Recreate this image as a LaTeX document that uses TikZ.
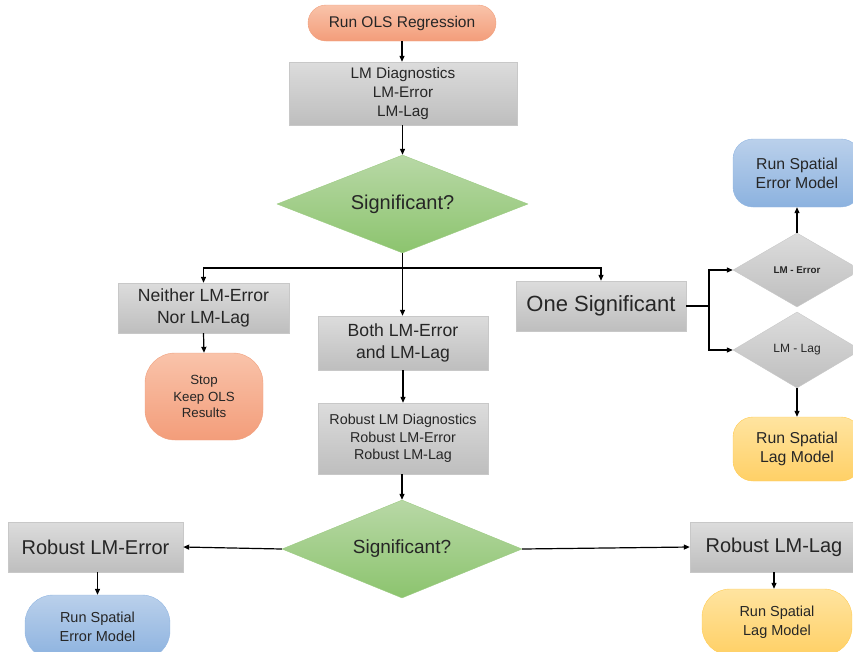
\documentclass[tikz,border=0pt]{standalone}
\usepackage{fontspec}
\setmainfont{Liberation Sans}
\usetikzlibrary{shapes.geometric,arrows.meta}
\definecolor{txt}{HTML}{262626}
\definecolor{graytop}{HTML}{DCDCDC}
\definecolor{graybot}{HTML}{BEBEBE}
\definecolor{grayedge}{HTML}{C8C8C8}
\definecolor{saltop}{HTML}{F9C3AA}
\definecolor{salbot}{HTML}{F39D7A}
\definecolor{saledge}{HTML}{F0A07E}
\definecolor{greentop}{HTML}{B8D8A6}
\definecolor{greenbot}{HTML}{8CC46E}
\definecolor{greenedge}{HTML}{9CCB82}
\definecolor{bluetop}{HTML}{BAD0EB}
\definecolor{bluebot}{HTML}{8CB2DF}
\definecolor{blueedge}{HTML}{93B7E2}
\definecolor{yeltop}{HTML}{FFE4A0}
\definecolor{yelbot}{HTML}{FFD066}
\definecolor{yeledge}{HTML}{FFCC55}
\tikzset{
  base/.style={inner sep=0pt, align=center, text=txt},
  graybox/.style={base, rectangle, draw=grayedge, top color=graytop, bottom color=graybot},
  salmon/.style={base, rectangle, draw=saledge, top color=saltop, bottom color=salbot},
  bluebox/.style={base, rectangle, draw=blueedge, top color=bluetop, bottom color=bluebot},
  yelbox/.style={base, rectangle, draw=yeledge, top color=yeltop, bottom color=yelbot},
  greendia/.style={base, diamond, shape aspect=3, draw=greenedge, top color=greentop, bottom color=greenbot},
  graydia/.style={base, diamond, shape aspect=3, draw=grayedge, top color=graytop, bottom color=graybot},
  conn/.style={draw=black, line width=1.2pt, -{Triangle[length=6pt,width=5pt]}},
  plain/.style={draw=black, line width=1.2pt},
}
\begin{document}
\begin{tikzpicture}[x=1pt,y=-1pt]
\useasboundingbox (0,0) rectangle (853,651);
\clip (0,0) rectangle (853,651);

\node[salmon, rounded corners=18pt, minimum width=188pt, minimum height=36pt,
  font=\fontsize{15.5}{18}\selectfont] (ols) at (402,23) {Run OLS Regression};
\node[graybox, minimum width=228pt, minimum height=63pt,
  font=\fontsize{15.3}{19}\selectfont] (diag) at (403,93.5) {LM Diagnostics\\LM-Error\\LM-Lag};
\node[greendia, minimum width=251pt, minimum height=98pt,
  font=\fontsize{20}{24}\selectfont] (sig1) at (402.5,204) {Significant?};

\node[graybox, minimum width=171pt, minimum height=50pt,
  font=\fontsize{17.6}{22}\selectfont] (neither) at (203.5,308) {Neither LM-Error\\Nor LM-Lag};
\node[salmon, rounded corners=30pt, minimum width=118pt, minimum height=87pt,
  font=\fontsize{13.3}{16.5}\selectfont] (stop) at (204,396.5) {Stop\\Keep OLS\\Results};

\node[graybox, minimum width=170pt, minimum height=54pt,
  font=\fontsize{17.6}{22}\selectfont] (both) at (403,343) {Both LM-Error\\and LM-Lag};
\node[graybox, minimum width=170pt, minimum height=71pt,
  font=\fontsize{14.3}{17.5}\selectfont] (robust) at (403,438.5) {Robust LM Diagnostics\\Robust LM-Error\\Robust LM-Lag};
\node[greendia, minimum width=240pt, minimum height=98pt,
  font=\fontsize{19}{22}\selectfont] (sig2) at (402,549) {Significant?};

\node[graybox, minimum width=175pt, minimum height=50pt,
  font=\fontsize{20}{24}\selectfont] (rerr) at (95.5,547) {Robust LM-Error};
\node[bluebox, rounded corners=28pt, minimum width=145pt, minimum height=64pt,
  font=\fontsize{14.5}{18.5}\selectfont] (rse) at (97.5,627) {Run Spatial\\Error Model};

\node[graybox, minimum width=168pt, minimum height=50pt,
  font=\fontsize{20}{24}\selectfont] (rlag) at (774,547) {Robust LM-Lag};
\node[yelbox, rounded corners=28pt, minimum width=150pt, minimum height=66pt,
  font=\fontsize{14.5}{19}\selectfont] (rsl) at (777,622) {Run Spatial\\Lag Model};

\node[graybox, minimum width=170pt, minimum height=50pt,
  font=\fontsize{22}{26}\selectfont] (one) at (601,306) {One Significant};
\node[graydia, minimum width=128pt, minimum height=74pt,
  font=\fontsize{9.8}{12}\selectfont\bfseries] (derr) at (797,270) {LM - Error};
\node[graydia, minimum width=128pt, minimum height=76pt,
  font=\fontsize{12}{14}\selectfont] (dlag) at (797,350) {LM - Lag};
\node[bluebox, rounded corners=20pt, minimum width=128pt, minimum height=68pt,
  font=\fontsize{15.8}{19}\selectfont] (setop) at (797,173) {Run Spatial\\Error Model};
\node[yelbox, rounded corners=20pt, minimum width=128pt, minimum height=64pt,
  font=\fontsize{15.8}{19}\selectfont] (slright) at (797,449) {Run Spatial\\Lag Model};

\coordinate (split) at (402.5,268);
\coordinate (fork) at (709,306);

\draw[conn] (ols.south) -- (diag.north -| ols.south);
\draw[conn] (diag.south -| sig1.north) -- (sig1.north);
\draw[plain] (sig1.south) -- (split);
\draw[conn] (split) -| (neither.north);
\draw[conn] (split) -| (one.north);
\draw[conn] (split) -- (both.north -| split);
\draw[conn] (neither.south) -- (stop.north);
\draw[conn] (both.south) -- (robust.north);
\draw[conn] (robust.south -| sig2.north) -- (sig2.north);
\draw[conn] (sig2.west) -- (rerr.east);
\draw[conn] (sig2.east) -- (rlag.west);
\draw[conn] (rse.north |- rerr.south) -- (rse.north);
\draw[conn] (rlag.south) -- (rlag.south |- rsl.north);
\draw[plain] (one.east) -- (fork);
\draw[conn] (fork) |- (derr.west);
\draw[conn] (fork) |- (dlag.west);
\draw[conn] (derr.north) -- (setop.south);
\draw[conn] (dlag.south) -- (slright.north);
\end{tikzpicture}
\end{document}
